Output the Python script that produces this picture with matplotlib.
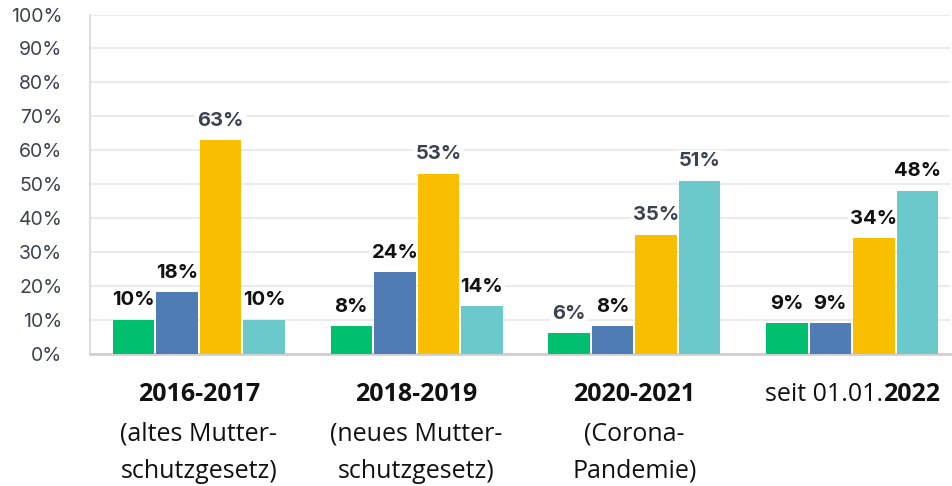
import matplotlib
matplotlib.use("Agg")
import matplotlib.pyplot as plt
import numpy as np

# data
periods = ["2016-2017", "2018-2019", "2020-2021", "2022"]
subtitles = [["(altes Mutter-", "schutzgesetz)"],
             ["(neues Mutter-", "schutzgesetz)"],
             ["(Corona-", "Pandemie)"],
             []]
s1 = [10, 8, 6, 9]
s2 = [18, 24, 8, 9]
s3 = [63, 53, 35, 34]
s4 = [10, 14, 51, 48]
series = [s1, s2, s3, s4]
colors = ["#00BF6F", "#507CB6", "#F9BE00", "#6BC9CC"]

dark = "#111111"
grey = "#3b4351"
# label colours, label_colors[group][series]
label_colors = [[dark, dark, grey, dark],
                [dark, dark, grey, dark],
                [grey, dark, grey, grey],
                [dark, dark, dark, dark]]

fig = plt.figure(figsize=(9.53, 4.86), dpi=100)
ax = fig.add_axes([0.0944, 0.2726, 0.9026, 0.6975])

x = np.arange(len(periods))
step = 0.2
width = 0.19
for i, vals in enumerate(series):
    pos = x + (i - 1.5) * step
    ax.bar(pos, vals, width, color=colors[i], zorder=3)
    for j, v in enumerate(vals):
        # white box behind the label hides the gridline, bars stay on top
        ax.annotate(f"{v}%", (pos[j], v), xytext=(0, 7.5), textcoords="offset points",
                    ha="center", va="bottom", fontsize=14.5, fontweight="bold",
                    family="Inter", color=label_colors[j][i], zorder=2,
                    bbox=dict(facecolor="white", edgecolor="none", pad=1.5))

ax.set_xlim(-0.5, 3.45)
ax.set_ylim(0, 100)
ax.set_yticks(np.arange(0, 101, 10))
ax.set_yticklabels([f"{t}%" for t in range(0, 101, 10)], family="Inter",
                   fontsize=14, color="#3d4450")
ax.tick_params(axis="y", length=0, pad=20)
ax.set_xticks([])
ax.grid(axis="y", color="#ebebeb", linewidth=1.5, zorder=0)
ax.set_axisbelow(True)
for s in ["top", "right"]:
    ax.spines[s].set_visible(False)
ax.spines["left"].set_color("#dddddd")
ax.spines["left"].set_linewidth(1.5)
ax.spines["bottom"].set_color("#d0d0d0")
ax.spines["bottom"].set_linewidth(2)

tr = ax.get_xaxis_transform()
cat_font = "Open Sans"
fs = 18
ys = [-0.121, -0.238, -0.348]
for j, p in enumerate(periods[:3]):
    ax.text(j, ys[0], p, transform=tr, ha="center", va="center", fontsize=fs,
            fontweight="bold", family=cat_font, color="#111111")
    for k, line in enumerate(subtitles[j]):
        ax.text(j, ys[k + 1], line, transform=tr, ha="center", va="center",
                fontsize=fs, family=cat_font, color="#111111")

# last category: normal text followed by bold year
t1 = ax.text(3, ys[0], "seit 01.01.", transform=tr, ha="left", va="center",
             fontsize=fs, family=cat_font, color="#111111")
t2 = ax.text(3, ys[0], periods[3], transform=tr, ha="left", va="center",
             fontsize=fs, fontweight="bold", family=cat_font, color="#111111")
r = fig.canvas.get_renderer()
w1 = t1.get_window_extent(r).width
w2 = t2.get_window_extent(r).width
xpix = ax.transData.transform((3, 0))[0]
start = xpix - (w1 + w2) / 2
inv = ax.transData.inverted()
t1.set_x(inv.transform((start, 0))[0])
t2.set_x(inv.transform((start + w1, 0))[0])

fig.savefig("out.png", dpi=100)
